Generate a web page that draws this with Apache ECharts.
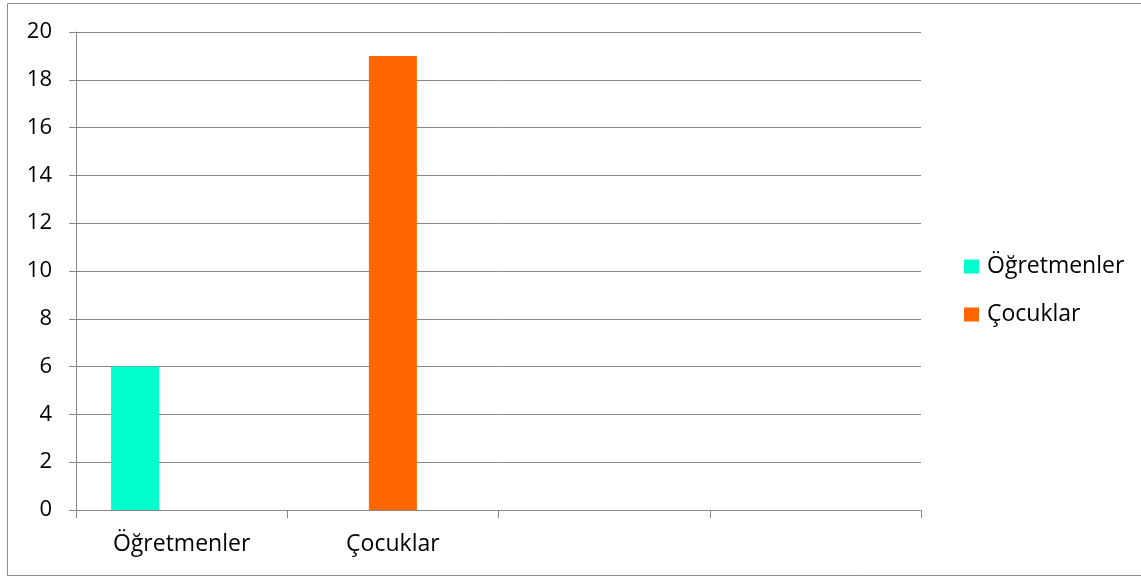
<!DOCTYPE html>
<html>
<head>
<meta charset="utf-8">
<script src="https://cdn.jsdelivr.net/npm/echarts@6/dist/echarts.min.js"></script>
<style>
html,body{margin:0;padding:0;background:#fff;}
#c{width:1141px;height:577px;}
</style>
</head>
<body>
<div id="c"></div>
<script>
const categories = ['Öğretmenler', 'Çocuklar', '', ''];
const seriesNames = ['Öğretmenler', 'Çocuklar'];
const ogretmenler = [6, null, null, null];
const cocuklar = [null, 19, null, null];
const spare = [null, null, null, null];
const yTicks = { min: 0, max: 20, interval: 2 };

const FONT = 'Open Sans';
const chart = echarts.init(document.getElementById('c'), null, { renderer: 'canvas' });
chart.setOption({
  animation: false,
  backgroundColor: '#fff',
  textStyle: { fontFamily: FONT },
  graphic: [{
    type: 'rect', silent: true,
    shape: { x: 7.5, y: 3.5, width: 1140, height: 572 },
    style: { fill: 'none', stroke: '#8c8c8c', lineWidth: 1 }
  }],
  grid: { left: 76, right: 220, top: 32, bottom: 67, containLabel: false },
  legend: {
    orient: 'vertical', left: 959, top: 250,
    data: seriesNames,
    icon: 'rect', itemWidth: 15, itemHeight: 14, itemGap: 25,
    textStyle: { fontFamily: FONT, fontSize: 23, color: '#000', padding: [0, 0, 0, 3] }
  },
  xAxis: {
    type: 'category', data: categories,
    axisLine: { show: true, lineStyle: { color: '#888', width: 1 } },
    axisTick: { show: true, length: 8, lineStyle: { color: '#888' } },
    axisLabel: { fontFamily: FONT, fontSize: 23, color: '#000', margin: 23, interval: 0 },
    splitLine: { show: false }
  },
  yAxis: {
    type: 'value', min: yTicks.min, max: yTicks.max, interval: yTicks.interval,
    axisLine: { show: true, lineStyle: { color: '#888', width: 1 } },
    axisTick: { show: true, length: 7, lineStyle: { color: '#888' } },
    axisLabel: { fontFamily: FONT, fontSize: 22, color: '#000', margin: 24 },
    splitLine: { show: true, lineStyle: { color: '#888', width: 1 } }
  },
  series: [
    { name: seriesNames[0], type: 'bar', data: ogretmenler, barWidth: 48, barGap: '-3%', itemStyle: { color: '#00FFCC' } },
    { name: seriesNames[1], type: 'bar', data: cocuklar, barWidth: 48, barGap: '-3%', itemStyle: { color: '#FF6600' } },
    { name: 'spare', type: 'bar', data: spare, barWidth: 48, barGap: '-3%', itemStyle: { color: '#999' } }
  ]
});
</script>
</body>
</html>
